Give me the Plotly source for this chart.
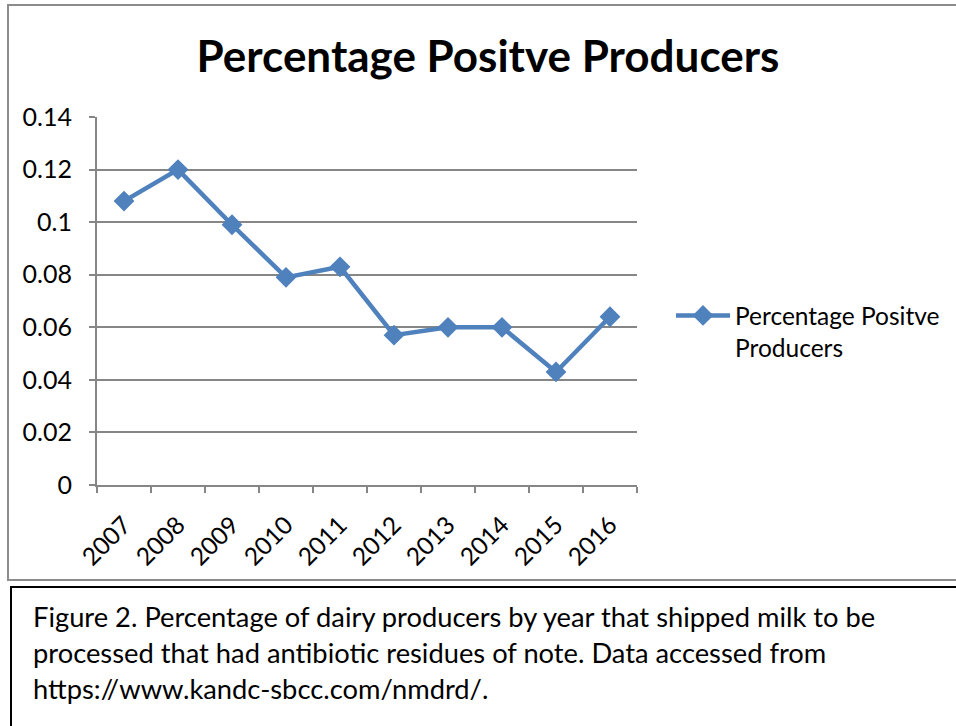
import plotly.graph_objects as go

# Share of producers with positive antibiotic residue tests, by year
years = ["2007", "2008", "2009", "2010", "2011", "2012", "2013", "2014", "2015", "2016"]
pct_positive = [0.108, 0.120, 0.099, 0.079, 0.083, 0.057, 0.060, 0.060, 0.043, 0.064]

y_ticks = [0, 0.02, 0.04, 0.06, 0.08, 0.10, 0.12, 0.14]
y_tick_text = ["0", "0.02", "0.04", "0.06", "0.08", "0.1", "0.12", "0.14"]

series_name = "Percentage Positve<br>Producers"
chart_title = "Percentage Positve Producers"
caption_lines = [
    "Figure 2. Percentage of dairy producers by year that shipped milk to be",
    "processed that had antibiotic residues of note. Data accessed from",
    "https://www.kandc-sbcc.com/nmdrd/.",
]

W, H = 956, 726
L, R, T, B = 97, 637, 117, 485  # plot-area edges in pixels

def px_x(x):
    return (x - L) / (R - L)

def px_y(y):
    return (B - y) / (B - T)

FONT = "Lato, Carlito, Calibri, sans-serif"
BLUE = "#4F81BD"
GRID = "#868686"

fig = go.Figure()
fig.add_trace(go.Scatter(
    x=years, y=pct_positive, mode="lines+markers", name=series_name,
    line=dict(color=BLUE, width=4.5),
    marker=dict(symbol="diamond", size=16, color=BLUE),
    showlegend=True,
))

fig.update_layout(
    width=W, height=H,
    margin=dict(l=L, r=W - R, t=T, b=H - B, pad=0, autoexpand=False),
    paper_bgcolor="white", plot_bgcolor="white",
    font=dict(family=FONT, size=25, color="#000000"),
    title=dict(text="<b>" + chart_title + "</b>", x=px_x(488), xref="paper",
               xanchor="center", y=1 - 57 / H, yanchor="middle",
               font=dict(family=FONT, size=44, color="#000000")),
    xaxis=dict(
        type="category", tickangle=-45, showgrid=False,
        showline=True, linecolor=GRID, linewidth=2,
        ticks="outside", ticklen=6, tickcolor=GRID, tickwidth=2,
        tickson="boundaries", tickfont=dict(size=24.5),
        ticklabelstandoff=14, automargin=False,
        range=[-0.5, len(years) - 0.5],
    ),
    yaxis=dict(
        range=[0, 0.14], tickvals=y_ticks, ticktext=y_tick_text,
        showgrid=True, gridcolor=GRID, gridwidth=1.5,
        showline=True, linecolor=GRID, linewidth=2,
        ticks="outside", ticklen=6, tickcolor=GRID, tickwidth=2,
        tickfont=dict(size=25), zeroline=False,
        ticklabelstandoff=12, automargin=False,
    ),
    legend=dict(
        x=px_x(671), y=px_y(293), xanchor="left", yanchor="top",
        valign="top", font=dict(size=24.5), bgcolor="rgba(0,0,0,0)",
        itemwidth=54, tracegroupgap=0,
    ),
)

# Chart frame and caption box
fig.add_shape(type="rect", xref="paper", yref="paper",
              x0=px_x(8), x1=px_x(965), y0=px_y(580), y1=px_y(5),
              line=dict(color="#8C8C8C", width=2), layer="below")
fig.add_shape(type="rect", xref="paper", yref="paper",
              x0=px_x(11), x1=px_x(965), y0=px_y(740), y1=px_y(587),
              line=dict(color="#000000", width=2), layer="below")

for i, line in enumerate(caption_lines):
    fig.add_annotation(
        text=line, xref="paper", yref="paper",
        x=px_x(31), y=px_y(616 + 36 * i), xanchor="left", yanchor="middle",
        showarrow=False, font=dict(family=FONT, size=27.3, color="#000000"),
    )

fig.write_html("out.html")
